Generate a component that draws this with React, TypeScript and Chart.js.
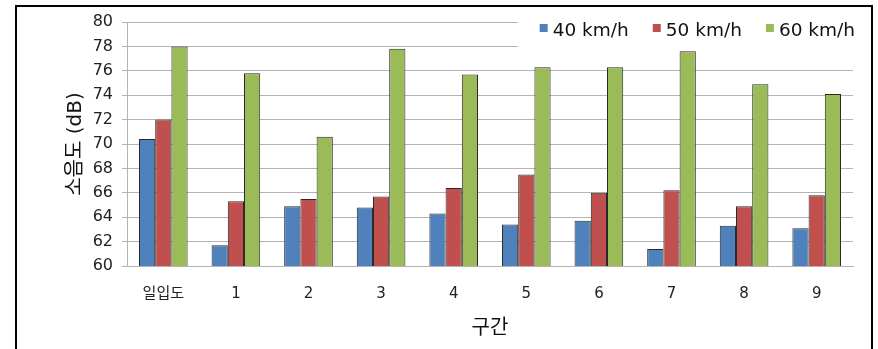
import React, { useEffect, useRef } from "react";
import { Chart, registerables } from "chart.js";

Chart.register(...registerables);

// 구간별 소음도 측정값 (dB)
const categories = ["일입도", "1", "2", "3", "4", "5", "6", "7", "8", "9"];
const speed40 = [70.4, 61.7, 64.9, 64.8, 64.3, 63.4, 63.7, 61.4, 63.3, 63.1];
const speed50 = [72.0, 65.3, 65.5, 65.7, 66.4, 67.5, 66.0, 66.2, 64.9, 65.8];
const speed60 = [78.0, 75.8, 70.6, 77.8, 75.7, 76.3, 76.3, 77.6, 74.9, 74.1];
const seriesLabels = ["40 km/h", "50 km/h", "60 km/h"];
const yMin = 60;
const yMax = 80;
const yStep = 2;
const xTitle = "구간";
const yTitle = "소음도 (dB)";

const FONT = '"DejaVu Sans", "Noto Sans CJK KR", sans-serif';
const COLORS = ["#4F81BD", "#C0504D", "#9BBB59"];
const GRID = "#b4b4b4";

// Legend drawn inside the top-right corner of the plot, on a white patch
const insetLegend = {
  id: "insetLegend",
  beforeDatasetsDraw(chart: any) {
    const { ctx, chartArea } = chart;
    const box = 8;
    const gap = 5;
    const spacing = 24;
    ctx.save();
    ctx.font = `18.5px ${FONT}`;
    const items = chart.data.datasets.map((ds: any) => ({
      text: ds.label as string,
      color: ds.backgroundColor as string,
      w: ctx.measureText(ds.label).width,
    }));
    const total =
      items.reduce((s: number, it: any) => s + box + gap + it.w, 0) +
      spacing * (items.length - 1);
    let x = chartArea.right + 2 - total;
    ctx.fillStyle = "#ffffff";
    ctx.fillRect(x - 22, chartArea.top - 4, chartArea.right - x + 24, 31);
    ctx.textBaseline = "middle";
    ctx.textAlign = "left";
    for (const it of items) {
      ctx.fillStyle = it.color;
      ctx.fillRect(x, chartArea.top + 2, box, box);
      x += box + gap;
      ctx.fillStyle = "#111";
      ctx.fillText(it.text, x, chartArea.top + 9);
      x += it.w + spacing;
    }
    ctx.restore();
  },
};

export default function App() {
  const canvasRef = useRef<HTMLCanvasElement | null>(null);

  useEffect(() => {
    const canvas = canvasRef.current;
    if (!canvas) return;
    const series = [speed40, speed50, speed60];
    const chart = new Chart(canvas, {
      type: "bar",
      data: {
        labels: categories,
        datasets: series.map((values, i) => ({
          label: seriesLabels[i],
          data: values,
          backgroundColor: COLORS[i],
          borderColor: "#2a2a2a",
          borderWidth: { top: 1, left: 1, right: 1, bottom: 0 },
          borderSkipped: false,
          categoryPercentage: 0.67,
          barPercentage: 1.0,
        })),
      },
      options: {
        animation: false,
        responsive: false,
        devicePixelRatio: 1,
        layout: { padding: { top: 22, right: 25, left: 0, bottom: 0 } },
        plugins: {
          legend: { display: false },
          tooltip: { enabled: false },
        },
        scales: {
          x: {
            grid: { display: false, drawTicks: false },
            border: { display: true, color: GRID, width: 1 },
            ticks: {
              color: "#222",
              padding: 19,
              font: { family: FONT, size: 15 },
            },
            title: {
              display: true,
              text: xTitle,
              color: "#111",
              font: { family: FONT, size: 20 },
              padding: { top: 0, bottom: 8 },
            },
            afterFit(scale: any) {
              scale.height = 83;
            },
          },
          y: {
            min: yMin,
            max: yMax,
            grid: { color: GRID, lineWidth: 1, drawTicks: true, tickLength: 5 },
            border: { display: true, color: GRID, width: 1 },
            ticks: {
              stepSize: yStep,
              color: "#222",
              padding: 9,
              font: { family: FONT, size: 16 },
            },
            title: {
              display: true,
              text: yTitle,
              color: "#111",
              font: { family: FONT, size: 20 },
              padding: { top: 64, bottom: 0 },
            },
            afterFit(scale: any) {
              scale.width = 127;
            },
          },
        },
      },
      plugins: [insetLegend],
    });
    return () => chart.destroy();
  }, []);

  return (
    <div
      style={{
        position: "fixed",
        left: 0,
        top: 0,
        width: 878,
        height: 349,
        background: "#ffffff",
        overflow: "hidden",
      }}
    >
      <div
        style={{
          position: "absolute",
          left: 15,
          top: 5,
          width: 858,
          height: 400,
          boxSizing: "border-box",
          border: "2px solid #000",
        }}
      />
      <canvas
        ref={canvasRef}
        width={878}
        height={349}
        style={{ position: "absolute", left: 0, top: 0, width: 878, height: 349 }}
      />
    </div>
  );
}
